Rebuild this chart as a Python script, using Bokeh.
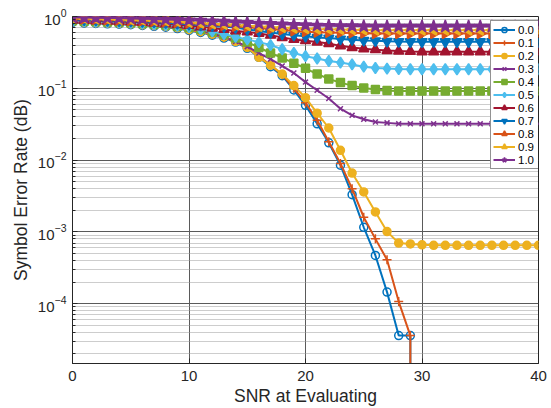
import math
from bokeh.plotting import figure
from bokeh.models import Range1d, FixedTicker, LogTickFormatter, Legend, LegendItem
from bokeh.embed import file_html
from bokeh.resources import INLINE

# ---------------- data ----------------
snr = [0, 1, 2, 3, 4, 5, 6, 7, 8, 9, 10, 11, 12, 13, 14, 15, 16, 17, 18, 19, 20,
       21, 22, 23, 24, 25, 26, 27, 28, 29, 30, 31, 32, 33, 34, 35, 36, 37, 38, 39, 40]

series_labels = ["0.0", "0.1", "0.2", "0.3", "0.4", "0.5", "0.6", "0.7", "0.8", "0.9", "1.0"]

ser_00 = [0.83, 0.81, 0.80, 0.79, 0.78, 0.77, 0.75, 0.73, 0.71, 0.68, 0.64, 0.60, 0.55, 0.50, 0.44,
          0.36, 0.27, 0.20, 0.15, 0.095, 0.058, 0.032, 0.0174, 0.0085, 0.0033, 0.00116, 0.00047,
          0.000145, 0.000036, 0.000036, 0, 0, 0, 0, 0, 0, 0, 0, 0, 0, 0]
ser_01 = [0.84, 0.82, 0.81, 0.80, 0.79, 0.78, 0.76, 0.74, 0.72, 0.69, 0.65, 0.61, 0.56, 0.51, 0.45,
          0.37, 0.28, 0.21, 0.155, 0.10, 0.063, 0.036, 0.018, 0.009, 0.004, 0.0016, 0.0008,
          0.00041, 0.000107, 0.000036, 0, 0, 0, 0, 0, 0, 0, 0, 0, 0, 0]
ser_02 = [0.85, 0.83, 0.82, 0.81, 0.80, 0.79, 0.77, 0.75, 0.73, 0.70, 0.66, 0.62, 0.57, 0.52, 0.45,
          0.37, 0.27, 0.21, 0.158, 0.109, 0.074, 0.045, 0.028, 0.0137, 0.0066, 0.0036, 0.0019,
          0.00101, 0.0007, 0.00068, 0.00066, 0.00065, 0.00065, 0.00065, 0.00065, 0.00065,
          0.00065, 0.00065, 0.00065, 0.00065, 0.00065]
ser_03 = [0.86, 0.84, 0.83, 0.82, 0.81, 0.80, 0.78, 0.76, 0.74, 0.71, 0.67, 0.63, 0.58, 0.52, 0.45,
          0.38, 0.31, 0.255, 0.205, 0.163, 0.122, 0.094, 0.072, 0.052, 0.042, 0.037, 0.034,
          0.033, 0.032, 0.032, 0.032, 0.032, 0.032, 0.032, 0.032, 0.032, 0.032, 0.032, 0.032,
          0.032, 0.032]
ser_04 = [0.87, 0.86, 0.85, 0.84, 0.83, 0.82, 0.80, 0.78, 0.76, 0.73, 0.70, 0.66, 0.61, 0.56, 0.50,
          0.44, 0.37, 0.31, 0.265, 0.224, 0.19, 0.158, 0.135, 0.12, 0.109, 0.101, 0.096,
          0.093, 0.092, 0.092, 0.092, 0.092, 0.092, 0.092, 0.092, 0.092, 0.092, 0.092, 0.092,
          0.092, 0.092]
ser_05 = [0.87, 0.86, 0.85, 0.84, 0.83, 0.82, 0.80, 0.78, 0.76, 0.74, 0.71, 0.67, 0.62, 0.57, 0.52,
          0.48, 0.44, 0.40, 0.35, 0.31, 0.28, 0.26, 0.24, 0.228, 0.215, 0.20, 0.192,
          0.188, 0.185, 0.184, 0.184, 0.184, 0.184, 0.184, 0.184, 0.184, 0.184, 0.184, 0.184,
          0.184, 0.184]
ser_06 = [0.89, 0.88, 0.87, 0.86, 0.85, 0.84, 0.83, 0.81, 0.79, 0.77, 0.75, 0.72, 0.69, 0.66, 0.63,
          0.61, 0.58, 0.55, 0.51, 0.48, 0.46, 0.44, 0.42, 0.39, 0.37, 0.355, 0.345,
          0.335, 0.33, 0.326, 0.323, 0.323, 0.323, 0.323, 0.323, 0.323, 0.323, 0.323, 0.323,
          0.323, 0.323]
ser_07 = [0.91, 0.90, 0.89, 0.88, 0.87, 0.86, 0.85, 0.84, 0.82, 0.80, 0.78, 0.76, 0.74, 0.72, 0.70,
          0.66, 0.63, 0.60, 0.57, 0.55, 0.53, 0.51, 0.50, 0.485, 0.475, 0.465, 0.458,
          0.452, 0.448, 0.445, 0.445, 0.445, 0.445, 0.445, 0.445, 0.445, 0.445, 0.445, 0.445,
          0.445, 0.445]
ser_08 = [0.93, 0.92, 0.91, 0.90, 0.89, 0.88, 0.87, 0.86, 0.85, 0.83, 0.81, 0.79, 0.77, 0.75, 0.73,
          0.71, 0.69, 0.67, 0.65, 0.63, 0.615, 0.605, 0.60, 0.595, 0.59, 0.585, 0.58,
          0.58, 0.58, 0.58, 0.58, 0.58, 0.58, 0.58, 0.58, 0.58, 0.58, 0.58, 0.58,
          0.58, 0.58]
ser_09 = [0.95, 0.94, 0.93, 0.92, 0.91, 0.90, 0.89, 0.88, 0.87, 0.85, 0.83, 0.81, 0.79, 0.78, 0.76,
          0.745, 0.73, 0.715, 0.70, 0.69, 0.68, 0.67, 0.665, 0.66, 0.655, 0.65, 0.645,
          0.645, 0.645, 0.645, 0.645, 0.645, 0.645, 0.645, 0.645, 0.645, 0.645, 0.645, 0.645,
          0.645, 0.645]
ser_10 = [0.97, 0.965, 0.96, 0.955, 0.95, 0.94, 0.93, 0.92, 0.91, 0.90, 0.89, 0.88, 0.86, 0.85, 0.83,
          0.82, 0.80, 0.79, 0.78, 0.77, 0.76, 0.75, 0.745, 0.74, 0.735, 0.73, 0.725,
          0.725, 0.725, 0.725, 0.725, 0.725, 0.725, 0.725, 0.725, 0.725, 0.725, 0.725, 0.725,
          0.725, 0.725]

x_ticks = [0, 10, 20, 30, 40]
y_ticks = [1e-4, 1e-3, 1e-2, 1e-1, 1e0]

# ---------------- styling ----------------
Y_MIN, Y_MAX = 1.47e-5, 1.0
FONT = "Liberation Sans"
TXT = "#262626"

all_series = [ser_00, ser_01, ser_02, ser_03, ser_04, ser_05, ser_06, ser_07, ser_08, ser_09, ser_10]
colors = ["#0072BD", "#D95319", "#EDB120", "#7E2F8E", "#77AC30", "#4DBEEE", "#A2142F",
          "#0072BD", "#D95319", "#EDB120", "#7E2F8E"]
markers = ["circle", "cross", "circle", "x", "square", "diamond", "triangle",
           "inverted_triangle", "triangle", "triangle", "star"]
angles = [0, 0, 0, 0, 0, 0, 0, 0, -math.pi / 2, math.pi / 2, 0]
sizes = [8, 9, 8, 7, 8, 11, 10, 10, 10, 10, 13]
filled = [False, False, True, False, True, True, True, True, True, True, True]

p = figure(width=551, height=408, y_axis_type="log",
           x_range=Range1d(0, 40), y_range=Range1d(Y_MIN, Y_MAX),
           output_backend="svg", toolbar_location=None,
           min_border_left=72, min_border_right=13, min_border_top=16, min_border_bottom=43)

p.background_fill_color = "white"
p.border_fill_color = "white"
p.outline_line_color = TXT
p.outline_line_width = 1

# grids
p.xgrid.ticker = FixedTicker(ticks=x_ticks)
p.xgrid.grid_line_color = "#5a5a5a"
p.xgrid.grid_line_width = 1
minor_y = [m * 10.0 ** d for d in range(-5, 0) for m in range(2, 10)]
p.yaxis.ticker = FixedTicker(ticks=y_ticks, minor_ticks=minor_y)
p.ygrid.ticker = FixedTicker(ticks=y_ticks, minor_ticks=minor_y)
p.ygrid.grid_line_color = "#5a5a5a"
p.ygrid.grid_line_width = 1
p.ygrid.minor_grid_line_color = "#9a9a9a"
p.ygrid.minor_grid_line_dash = "1 1"
p.ygrid.minor_grid_line_width = 1

p.xaxis.ticker = FixedTicker(ticks=x_ticks)
p.yaxis.formatter = LogTickFormatter()

for ax in (p.xaxis, p.yaxis):
    ax.axis_line_color = TXT
    ax.major_tick_line_color = TXT
    ax.minor_tick_line_color = TXT
    ax.major_tick_in = 5
    ax.major_tick_out = 0
    ax.minor_tick_in = 3
    ax.minor_tick_out = 0
    ax.major_label_text_font = FONT
    ax.major_label_text_font_size = "15px"
    ax.major_label_text_color = TXT
    ax.axis_label_text_font = FONT
    ax.axis_label_text_font_size = "17.5px"
    ax.axis_label_text_font_style = "normal"
    ax.axis_label_text_color = TXT

p.xaxis.axis_label = "SNR at Evaluating"
p.yaxis.axis_label = "Symbol Error Rate (dB)"
p.xaxis.major_label_standoff = 7
p.xaxis.axis_label_standoff = 2
p.yaxis.major_label_standoff = 6
p.yaxis.axis_label_standoff = 4

items = []
for i, ser in enumerate(all_series):
    xs = [x for x, v in zip(snr, ser) if v > 0]
    ys = [v for v in ser if v > 0]
    col = colors[i]
    lr = p.line(xs, ys, line_color=col, line_width=2)
    rends = [lr]
    # vertical drop where the error rate falls to zero (log of zero)
    if len(ys) < len(ser):
        p.segment(x0=[xs[-1]], y0=[ys[-1]], x1=[xs[-1]], y1=[Y_MIN * 0.5],
                  line_color=col, line_width=2)
    sr = p.scatter(xs, ys, marker=markers[i], size=sizes[i], angle=angles[i],
                   line_color=col, line_width=1.5,
                   fill_color=col if filled[i] else None,
                   fill_alpha=1.0 if filled[i] else 0.0)
    rends.append(sr)
    items.append(LegendItem(label=series_labels[i], renderers=rends))

legend = Legend(items=items, location=(418, 194))
legend.label_text_font = FONT
legend.label_text_font_size = "11.5px"
legend.label_text_color = "black"
legend.glyph_width = 22
legend.glyph_height = 13
legend.label_height = 13
legend.label_standoff = 3
legend.spacing = 0
legend.padding = 2
legend.margin = 0
legend.border_line_color = TXT
legend.border_line_width = 1
legend.background_fill_color = "white"
legend.background_fill_alpha = 1.0
p.add_layout(legend)

open("out.html", "w").write(file_html(p, INLINE))
